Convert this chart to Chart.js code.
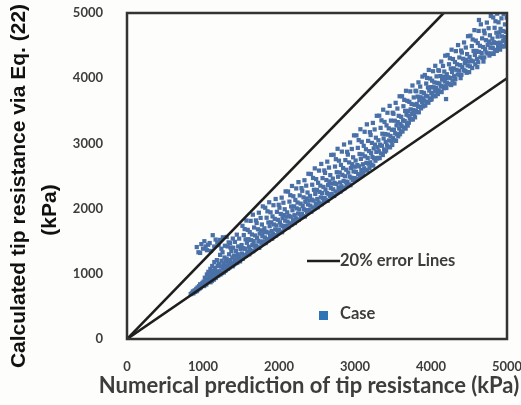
<!DOCTYPE html>
<html>
<head>
<meta charset="utf-8">
<script src="https://cdn.jsdelivr.net/npm/chart.js@4.4.1/dist/chart.umd.min.js"></script>
<style>
  html, body { margin: 0; padding: 0; background: #fdfdfb; }
  canvas { display: block; }
</style>
</head>
<body>
<canvas id="tipChart" width="521" height="405"></canvas>
<script>
// axis ticks (kPa)
const tickValues = [0, 1000, 2000, 3000, 4000, 5000];

// +/-20% error lines through the origin
const errorUpper = [[0, 0], [4167, 5000]];
const errorLower = [[0, 0], [5000, 4000]];

// cases: [numerical prediction, calculated via Eq. (22)]
const casePoints = [
  [838,688],[852,702],[866,730],[874,700],[889,745],[897,722],
  [903,742],[912,770],[921,735],[929,790],[936,760],[948,810],[955,775],[963,840],[971,790],[986,820],[992,860],
  [918,1410],[940,1330],[962,1320],[978,1455],[1000,1385],[1018,1500],[1035,1420],[1052,1362],[1068,1445],[1088,1472],
  [1105,1350],[1128,1592],[1148,1418],[1166,1525],[1188,1480],[1205,1440],[1222,1520],[1242,1385],[1262,1560],[1288,1430],
  [1312,1565],[1338,1482],[1362,1402],[1392,1540],
  [1003,825],[1008,880],[1016,812],[1024,940],[1029,850],[1037,905],[1043,835],[1051,990],[1057,870],[1062,925],[1070,1030],[1077,880],[1084,960],[1090,905],[1097,1075],[1099,870],
  [1103,915],[1109,1010],[1117,890],[1121,1120],[1128,960],[1135,1045],[1142,910],[1149,1180],[1153,985],[1160,1090],[1168,935],[1174,1030],[1182,1210],[1187,965],[1193,1120],[1198,1005],
  [1203,975],[1210,1150],[1216,1040],[1225,1290],[1231,990],[1236,1110],[1244,1200],[1249,1010],[1257,1330],[1262,1080],[1268,1160],[1275,1020],[1283,1250],[1289,1110],[1294,1045],[1299,1190],
  [1304,1060],[1311,1230],[1317,1130],[1324,1420],[1329,1075],[1336,1180],[1343,1300],[1348,1095],[1356,1470],[1360,1210],[1367,1120],[1373,1350],[1380,1160],[1386,1250],[1391,1115],[1398,1400],
  [1402,1140],[1407,1280],[1415,1200],[1420,1490],[1426,1160],[1433,1350],[1438,1240],[1445,1600],[1451,1170],[1458,1300],[1463,1420],[1469,1210],[1476,1540],[1482,1265],[1488,1190],[1494,1380],[1499,1230],
  [1502,1230],[1508,1441],[1513,1311],[1519,1736],[1525,1231],[1531,1393],[1537,1594],[1542,1290],[1548,1686],[1554,1383],[1560,1528],[1566,1275],[1571,1817],[1577,1475],[1583,1344],[1589,1674],[1594,1320],[1599,1531],
  [1604,1415],[1609,1299],[1615,1640],[1621,1369],[1627,1812],[1633,1516],[1638,1352],[1644,1603],[1650,1440],[1656,1907],[1661,1347],[1667,1502],[1673,1710],[1679,1433],[1685,1588],[1690,1382],[1696,1819],
  [1701,1434],[1706,1780],[1712,1553],[1718,1405],[1723,1683],[1729,1505],[1735,1937],[1740,1398],[1746,1617],[1752,1494],[1758,1857],[1763,1666],[1769,1464],[1775,1756],[1781,1578],[1787,2034],[1792,1495],[1798,1639],
  [1802,1472],[1808,1698],[1813,1558],[1819,2013],[1825,1472],[1831,1645],[1837,1860],[1842,1534],[1848,1958],[1854,1633],[1860,1788],[1866,1517],[1871,2097],[1877,1730],[1883,1590],[1889,1943],[1894,1563],[1899,1789],
  [1904,1655],[1909,1539],[1915,1880],[1921,1609],[1927,2052],[1933,1756],[1938,1592],[1944,1843],[1950,1680],[1956,2147],[1961,1587],[1967,1742],[1973,1950],[1979,1673],[1985,1828],[1990,1622],[1996,2059],
  [2001,1673],[2006,2013],[2012,1790],[2018,1644],[2023,1918],[2029,1743],[2035,2168],[2040,1638],[2046,1853],[2052,1732],[2058,2090],[2063,1902],[2069,1703],[2075,1990],[2081,1815],[2087,2264],[2092,1734],[2098,1876],
  [2102,1713],[2108,1942],[2113,1800],[2119,2262],[2125,1712],[2131,1888],[2137,2107],[2142,1775],[2148,2206],[2154,1876],[2160,2033],[2166,1757],[2171,2347],[2177,1974],[2183,1831],[2189,2190],[2194,1804],[2199,2034],
  [2204,1899],[2209,1779],[2215,2132],[2221,1851],[2227,2309],[2233,2003],[2238,1833],[2244,2093],[2250,1924],[2256,2406],[2261,1828],[2267,1988],[2273,2202],[2279,1916],[2285,2076],[2290,1863],[2296,2314],
  [2301,1917],[2306,2273],[2312,2039],[2318,1886],[2323,2173],[2329,1989],[2335,2435],[2340,1878],[2346,2104],[2352,1977],[2358,2352],[2363,2155],[2369,1945],[2375,2247],[2381,2063],[2387,2534],[2392,1977],[2398,2126],
  [2402,1954],[2408,2195],[2413,2045],[2419,2530],[2425,1953],[2431,2137],[2437,2366],[2442,2018],[2448,2470],[2454,2123],[2460,2288],[2466,1999],[2471,2617],[2477,2225],[2483,2076],[2489,2452],[2494,2046],[2499,2287],
  [2504,2148],[2509,2020],[2515,2395],[2521,2096],[2527,2583],[2533,2257],[2538,2076],[2544,2352],[2550,2172],[2556,2685],[2561,2069],[2567,2239],[2573,2467],[2579,2162],[2585,2332],[2590,2105],[2596,2585],
  [2601,2163],[2606,2547],[2612,2294],[2618,2128],[2623,2438],[2629,2239],[2635,2720],[2640,2119],[2646,2362],[2652,2224],[2658,2629],[2663,2416],[2669,2189],[2675,2514],[2681,2315],[2687,2823],[2692,2222],[2698,2382],
  [2702,2197],[2708,2460],[2713,2296],[2719,2826],[2725,2194],[2731,2395],[2737,2645],[2742,2264],[2748,2758],[2754,2378],[2760,2558],[2766,2241],[2771,2917],[2777,2488],[2783,2324],[2789,2735],[2794,2291],[2799,2554],
  [2804,2401],[2809,2261],[2815,2670],[2821,2343],[2827,2874],[2833,2518],[2838,2320],[2844,2621],[2850,2424],[2856,2983],[2861,2311],[2867,2496],[2873,2744],[2879,2411],[2885,2596],[2890,2348],[2896,2871],
  [2901,2410],[2906,2828],[2912,2552],[2918,2371],[2923,2708],[2929,2491],[2935,3014],[2940,2359],[2946,2623],[2952,2473],[2958,2914],[2963,2681],[2969,2434],[2975,2787],[2981,2570],[2987,3123],[2992,2468],[2998,2642],
  [3002,2459],[3008,2737],[3013,2563],[3019,3123],[3025,2455],[3031,2667],[3037,2931],[3042,2528],[3048,3050],[3054,2648],[3060,2838],[3066,2503],[3071,3217],[3077,2763],[3083,2590],[3089,3024],[3094,2554],[3099,2832],
  [3104,2680],[3109,2532],[3115,2963],[3121,2618],[3127,3178],[3133,2802],[3138,2593],[3144,2910],[3150,2702],[3156,3292],[3161,2582],[3167,2777],[3173,3039],[3179,2687],[3185,2882],[3190,2620],[3196,3172],
  [3201,2710],[3206,3128],[3212,2852],[3218,2671],[3223,3008],[3229,2791],[3235,3314],[3240,2659],[3246,2923],[3252,2773],[3258,3214],[3263,2981],[3269,2734],[3275,3087],[3281,2870],[3287,3423],[3292,2768],[3298,2942],
  [3302,2778],[3308,3048],[3313,2880],[3319,3425],[3325,2774],[3331,2981],[3337,3238],[3342,2846],[3348,3354],[3354,2963],[3360,3148],[3366,2822],[3371,3517],[3377,3076],[3383,2907],[3389,3329],[3394,2873],[3399,3143],
  [3404,3023],[3409,2891],[3415,3276],[3421,2969],[3427,3470],[3433,3134],[3438,2948],[3444,3231],[3450,3046],[3456,3575],[3461,2939],[3467,3114],[3473,3350],[3479,3035],[3485,3210],[3490,2976],[3496,3471],
  [3501,3080],[3506,3454],[3512,3208],[3518,3047],[3523,3348],[3529,3155],[3535,3622],[3540,3039],[3546,3275],[3552,3141],[3558,3534],[3563,3327],[3569,3108],[3575,3423],[3581,3230],[3587,3723],[3592,3140],[3598,3296],
  [3602,3182],[3608,3408],[3613,3268],[3619,3723],[3625,3182],[3631,3355],[3637,3570],[3642,3244],[3648,3668],[3654,3343],[3660,3498],[3666,3227],[3671,3807],[3677,3440],[3683,3300],[3689,3653],[3694,3273],[3699,3499],
  [3704,3426],[3709,3318],[3715,3637],[3721,3384],[3727,3798],[3733,3522],[3738,3369],[3744,3604],[3750,3452],[3756,3888],[3761,3366],[3767,3511],[3773,3705],[3779,3447],[3785,3592],[3790,3400],[3796,3808],
  [3801,3503],[3806,3799],[3812,3606],[3818,3480],[3823,3718],[3829,3567],[3835,3936],[3840,3477],[3846,3664],[3852,3560],[3858,3871],[3863,3708],[3869,3537],[3875,3786],[3881,3635],[3887,4025],[3892,3566],[3898,3690],
  [3902,3578],[3908,3774],[3913,3654],[3919,4049],[3925,3580],[3931,3731],[3937,3918],[3942,3636],[3948,4004],[3954,3723],[3960,3858],[3966,3624],[3971,4127],[3977,3810],[3983,3689],[3989,3995],[3994,3667],[3999,3863],
  [4004,3773],[4009,3677],[4015,3962],[4021,3737],[4027,4107],[4033,3861],[4038,3725],[4044,3935],[4050,3800],[4056,4190],[4061,3724],[4067,3854],[4073,4028],[4079,3798],[4085,3928],[4090,3757],[4096,4122],
  [4101,3815],[4106,4115],[4112,3919],[4118,3791],[4123,4033],[4129,3879],[4135,4255],[4140,3787],[4146,3978],[4152,3872],[4158,4188],[4163,4023],[4169,3847],[4175,4102],[4181,3948],[4187,4345],[4192,3877],[4198,4003],[4198,3680],
  [4202,3850],[4208,4061],[4213,3931],[4219,4356],[4231,4013],[4237,4214],[4242,3910],[4248,4306],[4254,4003],[4260,4148],[4266,3895],[4271,4437],[4277,4095],[4283,3964],[4289,4294],[4299,4151],
  [4304,4031],[4309,3919],[4315,4248],[4321,3987],[4327,4415],[4333,4129],[4344,4213],[4350,4056],[4356,4508],[4367,4116],[4373,4318],[4379,4050],[4385,4200],[4390,4001],[4396,4424],
  [4401,4053],[4406,4393],[4412,4170],[4423,4298],[4429,4123],[4435,4548],[4446,4233],[4452,4112],[4458,4470],[4463,4282],[4469,4083],[4475,4370],[4481,4195],[4487,4644],[4498,4256],
  [4502,4093],[4508,4326],[4513,4182],[4519,4652],[4531,4271],[4537,4493],[4542,4156],[4548,4594],[4554,4258],[4560,4418],[4571,4737],[4577,4358],[4583,4213],[4589,4577],[4599,4418],
  [4604,4296],[4609,4170],[4615,4539],[4621,4245],[4627,4725],[4631,4893],[4633,4404],[4644,4497],[4650,4320],[4656,4826],[4667,4386],[4673,4611],[4679,4311],[4685,4478],[4690,4255],[4696,4728],
  [4701,4319],[4706,4687],[4712,4445],[4723,4583],[4729,4393],[4735,4853],[4746,4511],[4752,4380],[4758,4767],[4763,4563],[4769,4347],[4775,4658],[4781,4468],[4787,4954],[4792,4379],[4798,4533],
  [4802,4373],[4808,4606],[4813,4462],[4819,4932],[4825,4372],[4831,4551],[4837,4773],[4842,4436],[4848,4874],[4854,4538],[4860,4698],[4866,4418],[4871,4990],[4877,4638],[4883,4493],[4889,4857],[4894,4465],[4899,4698],
  [4904,4546],[4909,4438],[4915,4757],[4921,4504],[4927,4918],[4933,4642],[4938,4489],[4944,4724],[4950,4572],[4956,4985],[4961,4486],[4967,4631],[4973,4825],[4979,4567],[4985,4712],[4990,4520],[4996,4928]
];

const toXY = pts => pts.map(([x, y]) => ({ x, y }));

const TICK_FONT = { family: 'Lato', size: 13, weight: 'bold' };
const INK = '#3d3d3d';

// background, plot frame, axis titles and the in-plot legend
const decorations = {
  id: 'decorations',
  beforeDraw(chart) {
    const { ctx, width, height } = chart;
    ctx.save();
    ctx.fillStyle = '#fdfdfb';
    ctx.fillRect(0, 0, width, height);
    ctx.restore();
  },
  afterDraw(chart) {
    const { ctx, chartArea: a } = chart;
    ctx.save();
    ctx.strokeStyle = '#333';
    ctx.lineWidth = 2.5;
    ctx.strokeRect(a.left, a.top, a.right - a.left, a.bottom - a.top);

    // x title
    ctx.fillStyle = INK;
    ctx.font = 'bold 22px Lato';
    ctx.textAlign = 'center';
    ctx.textBaseline = 'middle';
    ctx.fillText('Numerical prediction of tip resistance (kPa)', 309, 386);

    // y title, two lines
    ctx.fillStyle = '#111';
    ctx.font = 'bold 21px "Liberation Sans"';
    ctx.save();
    ctx.translate(19, 186);
    ctx.rotate(-Math.PI / 2);
    ctx.fillText('Calculated tip resistance via Eq. (22)', 0, 0);
    ctx.restore();
    ctx.save();
    ctx.translate(50, 210);
    ctx.rotate(-Math.PI / 2);
    ctx.fillText('(kPa)', 0, 0);
    ctx.restore();

    // legend
    const lx = a.left + 180;
    ctx.strokeStyle = '#1e1e1e';
    ctx.lineWidth = 2.6;
    ctx.beginPath();
    ctx.moveTo(lx, 261);
    ctx.lineTo(lx + 33, 261);
    ctx.stroke();
    ctx.fillStyle = INK;
    ctx.font = 'bold 16.5px Lato';
    ctx.textAlign = 'left';
    ctx.fillText('20% error Lines', lx + 33, 261);
    ctx.fillStyle = '#2e75b6';
    ctx.fillRect(lx + 12, 311, 9, 9);
    ctx.fillStyle = INK;
    ctx.fillText('Case', lx + 33, 314);
    ctx.restore();
  }
};

const lineStyle = {
  showLine: true,
  borderColor: '#1e1e1e',
  borderWidth: 2.6,
  pointRadius: 0,
  fill: false
};

const tickOpts = {
  font: TICK_FONT,
  color: INK,
  callback: value => String(value)
};

new Chart(document.getElementById('tipChart'), {
  type: 'scatter',
  data: {
    datasets: [
      { label: '20% error Lines', data: toXY(errorUpper), ...lineStyle },
      { label: '20% error Lines', data: toXY(errorLower), ...lineStyle },
      {
        label: 'Case',
        data: toXY(casePoints),
        pointStyle: 'rect',
        pointRadius: 3,
        pointBackgroundColor: '#4a70a8',
        pointBorderWidth: 0
      }
    ]
  },
  options: {
    responsive: false,
    animation: false,
    layout: { padding: { top: 13, right: 14, left: 0, bottom: 0 } },
    plugins: {
      legend: { display: false },
      tooltip: { enabled: false }
    },
    scales: {
      x: {
        type: 'linear',
        min: 0,
        max: 5000,
        afterBuildTicks: axis => { axis.ticks = tickValues.map(v => ({ value: v })); },
        afterFit: axis => {
          axis.height = 66;
          axis.paddingLeft = 0;
          axis.paddingRight = 0;
        },
        grid: { display: false },
        border: { display: false },
        ticks: { ...tickOpts, padding: 12, maxRotation: 0 }
      },
      y: {
        type: 'linear',
        min: 0,
        max: 5000,
        afterBuildTicks: axis => { axis.ticks = tickValues.map(v => ({ value: v })); },
        afterFit: axis => {
          axis.width = 127;
          axis.paddingTop = 0;
          axis.paddingBottom = 0;
        },
        grid: { display: false },
        border: { display: false },
        ticks: { ...tickOpts, padding: 16 }
      }
    }
  },
  plugins: [decorations]
});
</script>
</body>
</html>
